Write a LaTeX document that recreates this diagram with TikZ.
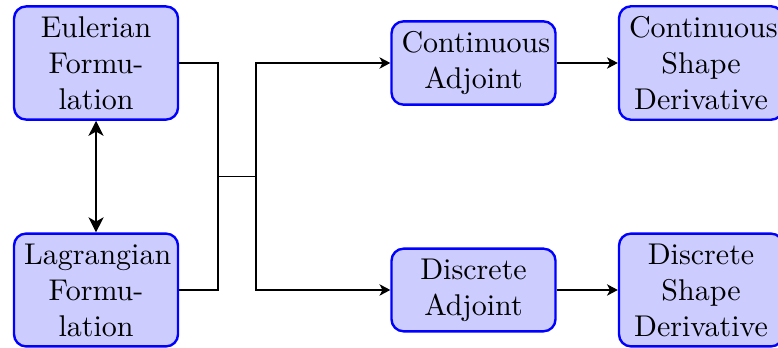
\documentclass[tikz,border=0pt]{standalone}
\usepackage{amsmath}
\usepackage{tikz}
\usetikzlibrary{arrows.meta, calc, positioning}

\tikzset{
  block/.style={rectangle, rounded corners, draw=blue, fill=blue!20, thick,
    align=center, text width=48pt, inner sep=3.33pt},
}

\begin{document}
\begin{tikzpicture}[>={Stealth[length=3.6pt, width=3.8pt, inset=1pt]}]
  \useasboundingbox (0,0) rectangle (9.114,-4.065);

  % formulations on the left
  \node[block] (euler) at (1.125,-0.738) {Eulerian\\Formu-\\lation};
  \node[block] (lagr) at (1.125,-3.397) {Lagrangian\\Formu-\\lation};

  % adjoints and shape derivatives
  \node[block] (cadj) at (5.547,-0.738) {Continuous\\Adjoint};
  \node[block] (dadj) at (5.547,-3.397) {Discrete\\Adjoint};
  \node[block] (cder) at (8.212,-0.738) {Continuous\\Shape\\Derivative};
  \node[block] (dder) at (8.212,-3.397) {Discrete\\Shape\\Derivative};

  \draw[thick, {Stealth[length=5pt, width=5pt, inset=1.4pt]}-{Stealth[length=5pt, width=5pt, inset=1.4pt]}] (euler) -- (lagr);

  \coordinate (joinl) at (2.554,-2.068);
  \coordinate (joinr) at (2.999,-2.068);
  \draw (euler.east) -| (joinl) |- (lagr.east);
  \draw (joinl) -- (joinr);
  \draw[->] (joinr) |- (cadj.west);
  \draw[->] (joinr) |- (dadj.west);

  \draw[->] (cadj) -- (cder);
  \draw[->] (dadj) -- (dder);
\end{tikzpicture}
\end{document}
